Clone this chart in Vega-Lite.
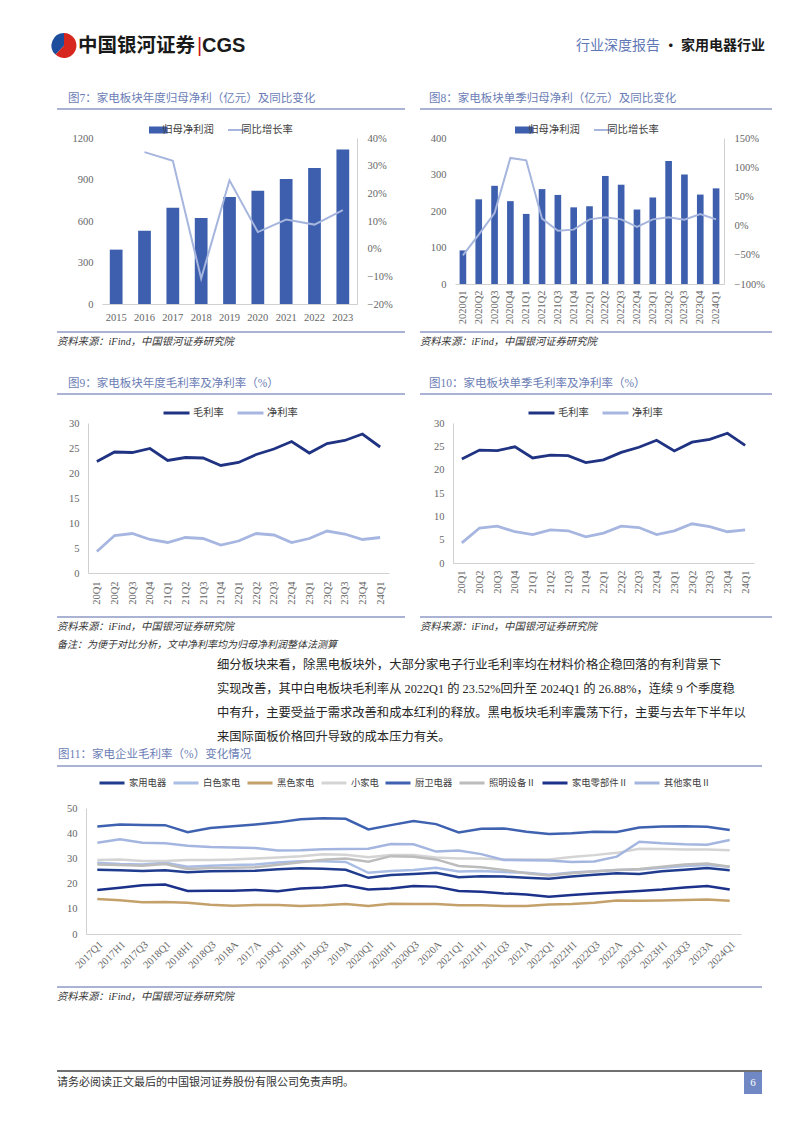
{
  "$schema": "https://vega.github.io/schema/vega-lite/v6.json",
  "background": "white",
  "padding": {"left": 50, "top": 33, "right": 0, "bottom": 0},
  "spacing": 0,
  "resolve": {"scale": {"color": "independent", "theta": "independent"}, "legend": {"color": "independent"}},
  "datasets": {
    "margin": [
      {"q": "20Q1", "毛利率": 22.3, "净利率": 4.3},
      {"q": "20Q2", "毛利率": 24.2, "净利率": 7.5},
      {"q": "20Q3", "毛利率": 24.1, "净利率": 7.9},
      {"q": "20Q4", "毛利率": 24.9, "净利率": 6.7},
      {"q": "21Q1", "毛利率": 22.5, "净利率": 6.1},
      {"q": "21Q2", "毛利率": 23.1, "净利率": 7.1},
      {"q": "21Q3", "毛利率": 23.0, "净利率": 6.9},
      {"q": "21Q4", "毛利率": 21.5, "净利率": 5.6},
      {"q": "22Q1", "毛利率": 22.1, "净利率": 6.4},
      {"q": "22Q2", "毛利率": 23.7, "净利率": 7.9},
      {"q": "22Q3", "毛利率": 24.8, "净利率": 7.6},
      {"q": "22Q4", "毛利率": 26.3, "净利率": 6.1},
      {"q": "23Q1", "毛利率": 24.0, "净利率": 6.9},
      {"q": "23Q2", "毛利率": 25.9, "净利率": 8.4},
      {"q": "23Q3", "毛利率": 26.5, "净利率": 7.8},
      {"q": "23Q4", "毛利率": 27.8, "净利率": 6.7},
      {"q": "24Q1", "毛利率": 25.2, "净利率": 7.1}
    ]
  },
  "vconcat": [
    {"hconcat": [
      {"width": 28, "height": 25, "data": {"values": [{"k": "a", "v": 62}, {"k": "b", "v": 38}]}, "mark": {"type": "arc"}, "encoding": {"theta": {"field": "v", "type": "quantitative"}, "color": {"field": "k", "type": "nominal", "scale": {"range": ["#d7261e", "#1d4e9e"]}, "legend": null}}},
      {"width": 119, "height": 25, "data": {"values": [{"t": "中国银河证券"}]}, "mark": {"type": "text", "align": "left", "baseline": "middle", "fontSize": 19.5, "fontWeight": "bold", "font": "Noto Sans CJK SC", "color": "#1a1a1a"}, "encoding": {"text": {"field": "t"}, "x": {"datum": 0, "type": "quantitative", "scale": {"domain": [0, 1]}, "axis": null}}},
      {"width": 5, "height": 25, "data": {"values": [{"t": "|"}]}, "mark": {"type": "text", "align": "center", "baseline": "middle", "fontSize": 20, "font": "Liberation Sans", "color": "#c8161d"}, "encoding": {"text": {"field": "t"}}},
      {"width": 76, "height": 25, "data": {"values": [{"t": "CGS"}]}, "mark": {"type": "text", "align": "left", "baseline": "middle", "fontSize": 20, "fontWeight": "bold", "font": "Liberation Sans", "color": "#1a1a1a"}, "encoding": {"text": {"field": "t"}, "x": {"datum": 0, "type": "quantitative", "scale": {"domain": [0, 1]}, "axis": null}}},
      {"width": 382, "height": 25, "data": {"values": [{"t": "行业深度报告"}]}, "mark": {"type": "text", "align": "right", "baseline": "middle", "fontSize": 14, "font": "Noto Sans CJK SC", "color": "#5f77b5"}, "encoding": {"text": {"field": "t"}, "x": {"datum": 1, "type": "quantitative", "scale": {"domain": [0, 1]}, "axis": null}}},
      {"width": 105, "height": 25, "data": {"values": [{"t": "· 家用电器行业"}]}, "mark": {"type": "text", "align": "right", "baseline": "middle", "fontSize": 14, "fontWeight": "bold", "font": "Noto Sans CJK SC", "color": "#1a1a1a"}, "encoding": {"text": {"field": "t"}, "x": {"datum": 1, "type": "quantitative", "scale": {"domain": [0, 1]}, "axis": null}}},
      {"width": 1, "height": 56, "data": {"values": [{}]}, "mark": {"type": "point", "opacity": 0, "size": 0, "strokeWidth": 0}, "encoding": {}}
    ], "spacing": 0, "bounds": "flush"},

    {"hconcat": [
      {"width": 7, "height": 35, "data": {"values": [{}]}, "mark": {"type": "point", "opacity": 0, "size": 0, "strokeWidth": 0}, "encoding": {}},
      {"width": 348, "height": 20, "data": {"values": [{"t": "图7：家电板块年度归母净利（亿元）及同比变化"}]}, "layer": [
        {"mark": {"type": "rule", "color": "#8e9ac6", "strokeWidth": 1.3}, "encoding": {"y": {"datum": 0, "type": "quantitative", "scale": {"domain": [0, 1]}, "axis": null}}},
        {"mark": {"type": "text", "align": "left", "baseline": "middle", "dx": 11, "fontSize": 11.5, "color": "#6b7db5"}, "encoding": {"text": {"field": "t"}, "x": {"datum": 0, "type": "quantitative", "scale": {"domain": [0, 1]}, "axis": null}}}
      ]},
      {"width": 15, "height": 20, "data": {"values": [{}]}, "mark": {"type": "point", "opacity": 0, "size": 0, "strokeWidth": 0}, "encoding": {}},
      {"width": 352, "height": 20, "data": {"values": [{"t": "图8：家电板块单季归母净利（亿元）及同比变化"}]}, "layer": [
        {"mark": {"type": "rule", "color": "#8e9ac6", "strokeWidth": 1.3}, "encoding": {"y": {"datum": 0, "type": "quantitative", "scale": {"domain": [0, 1]}, "axis": null}}},
        {"mark": {"type": "text", "align": "left", "baseline": "middle", "dx": 9, "fontSize": 11.5, "color": "#6b7db5"}, "encoding": {"text": {"field": "t"}, "x": {"datum": 0, "type": "quantitative", "scale": {"domain": [0, 1]}, "axis": null}}}
      ]}
    ], "spacing": 0, "bounds": "flush"},

    {"hconcat": [
      {"width": 52, "height": 193, "data": {"values": [{}]}, "mark": {"type": "point", "opacity": 0, "size": 0, "strokeWidth": 0}, "encoding": {}},
      {
        "width": 255, "height": 166,
        "data": {"values": [
          {"year": "2015", "profit": 393, "yoy": null},
          {"year": "2016", "profit": 530, "yoy": 0.349},
          {"year": "2017", "profit": 696, "yoy": 0.318},
          {"year": "2018", "profit": 622, "yoy": -0.108},
          {"year": "2019", "profit": 773, "yoy": 0.247},
          {"year": "2020", "profit": 819, "yoy": 0.060},
          {"year": "2021", "profit": 904, "yoy": 0.105},
          {"year": "2022", "profit": 983, "yoy": 0.087},
          {"year": "2023", "profit": 1116, "yoy": 0.139}
        ]},
        "encoding": {"x": {"field": "year", "type": "ordinal", "sort": null, "title": null, "scale": {"paddingInner": 0.55, "paddingOuter": 0.275}, "axis": {"labelAngle": 0, "labelPadding": 8, "domain": true}}},
        "layer": [
          {"mark": {"type": "bar"}, "encoding": {
            "y": {"field": "profit", "type": "quantitative", "title": null, "scale": {"domain": [0, 1200], "nice": false}, "axis": {"values": [0, 300, 600, 900, 1200], "format": "d", "labelPadding": 9}},
            "color": {"datum": "归母净利润", "type": "nominal", "scale": {"domain": ["归母净利润", "同比增长率"], "range": ["#3d5fad", "#a5b5dd"]},
              "legend": {"orient": "none", "legendX": 47, "legendY": -14, "clipHeight": 12, "direction": "horizontal", "title": null, "symbolType": "stroke", "symbolSize": 729, "labelOffset": 3, "columnPadding": 14,
                "encode": {"symbols": {"update": {"shape": {"value": "stroke"}, "size": {"value": 729}, "strokeWidth": {"signal": "datum.value === '归母净利润' ? 7 : 2"}, "stroke": {"signal": "datum.value === '归母净利润' ? '#3d5fad' : '#a5b5dd'"}, "fill": {"value": "transparent"}}}}}}
          }},
          {"mark": {"type": "line", "strokeWidth": 2}, "encoding": {
            "y": {"field": "yoy", "type": "quantitative", "title": null, "scale": {"domain": [-0.2, 0.4], "nice": false}, "axis": {"orient": "right", "values": [-0.2, -0.1, 0, 0.1, 0.2, 0.3, 0.4], "format": ".0%", "domain": true, "labelPadding": 10}},
            "color": {"datum": "同比增长率", "type": "nominal",
              "legend": {"orient": "none", "legendX": 47, "legendY": -14, "clipHeight": 12, "direction": "horizontal", "title": null, "symbolType": "stroke", "symbolSize": 729, "labelOffset": 3, "columnPadding": 14,
                "encode": {"symbols": {"update": {"shape": {"value": "stroke"}, "size": {"value": 729}, "strokeWidth": {"signal": "datum.value === '归母净利润' ? 7 : 2"}, "stroke": {"signal": "datum.value === '归母净利润' ? '#3d5fad' : '#a5b5dd'"}, "fill": {"value": "transparent"}}}}}}
          }}
        ],
        "resolve": {"scale": {"y": "independent"}}
      },
      {"width": 98, "height": 10, "data": {"values": [{}]}, "mark": {"type": "point", "opacity": 0, "size": 0, "strokeWidth": 0}, "encoding": {}},
      {
        "width": 269, "height": 146,
        "data": {"values": [
          {"q": "2020Q1", "profit": 92, "yoy": -0.509},
          {"q": "2020Q2", "profit": 232, "yoy": -0.155},
          {"q": "2020Q3", "profit": 269, "yoy": 0.216},
          {"q": "2020Q4", "profit": 227, "yoy": 1.158},
          {"q": "2021Q1", "profit": 192, "yoy": 1.118},
          {"q": "2021Q2", "profit": 260, "yoy": 0.119},
          {"q": "2021Q3", "profit": 244, "yoy": -0.087},
          {"q": "2021Q4", "profit": 210, "yoy": -0.069},
          {"q": "2022Q1", "profit": 213, "yoy": 0.107},
          {"q": "2022Q2", "profit": 296, "yoy": 0.142},
          {"q": "2022Q3", "profit": 272, "yoy": 0.107},
          {"q": "2022Q4", "profit": 204, "yoy": -0.024},
          {"q": "2023Q1", "profit": 237, "yoy": 0.107},
          {"q": "2023Q2", "profit": 337, "yoy": 0.142},
          {"q": "2023Q3", "profit": 300, "yoy": 0.102},
          {"q": "2023Q4", "profit": 245, "yoy": 0.199},
          {"q": "2024Q1", "profit": 262, "yoy": 0.107}
        ]},
        "encoding": {"x": {"field": "q", "type": "ordinal", "sort": null, "title": null, "scale": {"paddingInner": 0.58, "paddingOuter": 0.29}, "axis": {"labelAngle": -90, "labelPadding": 6, "domain": true}}},
        "layer": [
          {"mark": {"type": "bar"}, "encoding": {
            "y": {"field": "profit", "type": "quantitative", "title": null, "scale": {"domain": [0, 400], "nice": false}, "axis": {"values": [0, 100, 200, 300, 400], "format": "d", "labelPadding": 9}},
            "color": {"datum": "归母净利润", "type": "nominal", "scale": {"domain": ["归母净利润", "同比增长率"], "range": ["#3d5fad", "#a5b5dd"]},
              "legend": {"orient": "none", "legendX": 60, "legendY": -14, "clipHeight": 12, "direction": "horizontal", "title": null, "symbolType": "stroke", "symbolSize": 729, "labelOffset": 3, "columnPadding": 14,
                "encode": {"symbols": {"update": {"shape": {"value": "stroke"}, "size": {"value": 729}, "strokeWidth": {"signal": "datum.value === '归母净利润' ? 7 : 2"}, "stroke": {"signal": "datum.value === '归母净利润' ? '#3d5fad' : '#a5b5dd'"}, "fill": {"value": "transparent"}}}}}}
          }},
          {"mark": {"type": "line", "strokeWidth": 2}, "encoding": {
            "y": {"field": "yoy", "type": "quantitative", "title": null, "scale": {"domain": [-1, 1.5], "nice": false}, "axis": {"orient": "right", "values": [-1, -0.5, 0, 0.5, 1, 1.5], "format": ".0%", "domain": true, "labelPadding": 10}},
            "color": {"datum": "同比增长率", "type": "nominal",
              "legend": {"orient": "none", "legendX": 60, "legendY": -14, "clipHeight": 12, "direction": "horizontal", "title": null, "symbolType": "stroke", "symbolSize": 729, "labelOffset": 3, "columnPadding": 14,
                "encode": {"symbols": {"update": {"shape": {"value": "stroke"}, "size": {"value": 729}, "strokeWidth": {"signal": "datum.value === '归母净利润' ? 7 : 2"}, "stroke": {"signal": "datum.value === '归母净利润' ? '#3d5fad' : '#a5b5dd'"}, "fill": {"value": "transparent"}}}}}}
          }}
        ],
        "resolve": {"scale": {"y": "independent"}}
      }
    ], "spacing": 0, "bounds": "flush", "resolve": {"scale": {"color": "independent"}, "legend": {"color": "independent"}}},

    {"hconcat": [
      {"width": 7, "height": 2, "data": {"values": [{}]}, "mark": {"type": "point", "opacity": 0, "size": 0, "strokeWidth": 0}, "encoding": {}},
      {"width": 348, "height": 1, "data": {"values": [{}]}, "mark": {"type": "rule", "color": "#8e9ac6", "strokeWidth": 1.3}, "encoding": {"y": {"datum": 0, "type": "quantitative", "scale": {"domain": [0, 1]}, "axis": null}}},
      {"width": 15, "height": 1, "data": {"values": [{}]}, "mark": {"type": "point", "opacity": 0, "size": 0, "strokeWidth": 0}, "encoding": {}},
      {"width": 352, "height": 1, "data": {"values": [{}]}, "mark": {"type": "rule", "color": "#8e9ac6", "strokeWidth": 1.3}, "encoding": {"y": {"datum": 0, "type": "quantitative", "scale": {"domain": [0, 1]}, "axis": null}}}
    ], "spacing": 0, "bounds": "flush"},

    {"hconcat": [
      {"width": 7, "height": 40, "data": {"values": [{}]}, "mark": {"type": "point", "opacity": 0, "size": 0, "strokeWidth": 0}, "encoding": {}},
      {"width": 348, "height": 17, "data": {"values": [{"t": "资料来源：iFind，中国银河证券研究院"}]}, "mark": {"type": "text", "align": "left", "baseline": "middle", "fontSize": 10.3, "fontStyle": "italic", "color": "#333333"}, "encoding": {"text": {"field": "t"}, "x": {"datum": 0, "type": "quantitative", "scale": {"domain": [0, 1]}, "axis": null}}},
      {"width": 15, "height": 17, "data": {"values": [{}]}, "mark": {"type": "point", "opacity": 0, "size": 0, "strokeWidth": 0}, "encoding": {}},
      {"width": 352, "height": 17, "data": {"values": [{"t": "资料来源：iFind，中国银河证券研究院"}]}, "mark": {"type": "text", "align": "left", "baseline": "middle", "fontSize": 10.3, "fontStyle": "italic", "color": "#333333"}, "encoding": {"text": {"field": "t"}, "x": {"datum": 0, "type": "quantitative", "scale": {"domain": [0, 1]}, "axis": null}}}
    ], "spacing": 0, "bounds": "flush"},

    {"hconcat": [
      {"width": 7, "height": 34, "data": {"values": [{}]}, "mark": {"type": "point", "opacity": 0, "size": 0, "strokeWidth": 0}, "encoding": {}},
      {"width": 348, "height": 21, "data": {"values": [{"t": "图9：家电板块年度毛利率及净利率（%）"}]}, "layer": [
        {"mark": {"type": "rule", "color": "#8e9ac6", "strokeWidth": 1.3}, "encoding": {"y": {"datum": 0, "type": "quantitative", "scale": {"domain": [0, 1]}, "axis": null}}},
        {"mark": {"type": "text", "align": "left", "baseline": "middle", "dx": 11, "fontSize": 11.5, "color": "#6b7db5"}, "encoding": {"text": {"field": "t"}, "x": {"datum": 0, "type": "quantitative", "scale": {"domain": [0, 1]}, "axis": null}}}
      ]},
      {"width": 15, "height": 21, "data": {"values": [{}]}, "mark": {"type": "point", "opacity": 0, "size": 0, "strokeWidth": 0}, "encoding": {}},
      {"width": 352, "height": 21, "data": {"values": [{"t": "图10：家电板块单季毛利率及净利率（%）"}]}, "layer": [
        {"mark": {"type": "rule", "color": "#8e9ac6", "strokeWidth": 1.3}, "encoding": {"y": {"datum": 0, "type": "quantitative", "scale": {"domain": [0, 1]}, "axis": null}}},
        {"mark": {"type": "text", "align": "left", "baseline": "middle", "dx": 9, "fontSize": 11.5, "color": "#6b7db5"}, "encoding": {"text": {"field": "t"}, "x": {"datum": 0, "type": "quantitative", "scale": {"domain": [0, 1]}, "axis": null}}}
      ]}
    ], "spacing": 0, "bounds": "flush"},

    {"hconcat": [
      {"width": 38, "height": 193, "data": {"values": [{}]}, "mark": {"type": "point", "opacity": 0, "size": 0, "strokeWidth": 0}, "encoding": {}},
      {
        "width": 301, "height": 150,
        "data": {"name": "margin"},
        "transform": [{"fold": ["毛利率", "净利率"], "as": ["series", "value"]}],
        "mark": {"type": "line", "strokeWidth": 2.8},
        "encoding": {
          "x": {"field": "q", "type": "ordinal", "sort": null, "title": null, "scale": {"type": "point", "padding": 0.5}, "axis": {"labelAngle": -90, "labelPadding": 8, "domain": true}},
          "y": {"field": "value", "type": "quantitative", "title": null, "scale": {"domain": [0, 30], "nice": false}, "axis": {"values": [0, 5, 10, 15, 20, 25, 30], "domain": true, "labelPadding": 9}},
          "color": {"field": "series", "type": "nominal", "sort": ["毛利率", "净利率"], "scale": {"domain": ["毛利率", "净利率"], "range": ["#1f3382", "#a6b6e0"]},
            "legend": {"orient": "none", "legendX": 74, "legendY": -16, "clipHeight": 12, "direction": "horizontal", "title": null, "symbolType": "stroke", "symbolSize": 676, "symbolStrokeWidth": 3, "labelOffset": 2, "columnPadding": 12}}
        }
      },
      {"width": 64, "height": 10, "data": {"values": [{}]}, "mark": {"type": "point", "opacity": 0, "size": 0, "strokeWidth": 0}, "encoding": {}},
      {
        "width": 301, "height": 140,
        "data": {"name": "margin"},
        "transform": [{"fold": ["毛利率", "净利率"], "as": ["series", "value"]}],
        "mark": {"type": "line", "strokeWidth": 2.8},
        "encoding": {
          "x": {"field": "q", "type": "ordinal", "sort": null, "title": null, "scale": {"type": "point", "padding": 0.5}, "axis": {"labelAngle": -90, "labelPadding": 7, "domain": true}},
          "y": {"field": "value", "type": "quantitative", "title": null, "scale": {"domain": [0, 30], "nice": false}, "axis": {"values": [0, 5, 10, 15, 20, 25, 30], "domain": true, "labelPadding": 9}},
          "color": {"field": "series", "type": "nominal", "sort": ["毛利率", "净利率"], "scale": {"domain": ["毛利率", "净利率"], "range": ["#1f3382", "#a6b6e0"]},
            "legend": {"orient": "none", "legendX": 74, "legendY": -16, "clipHeight": 12, "direction": "horizontal", "title": null, "symbolType": "stroke", "symbolSize": 676, "symbolStrokeWidth": 3, "labelOffset": 2, "columnPadding": 12}}
        }
      }
    ], "spacing": 0, "bounds": "flush", "resolve": {"scale": {"color": "independent"}, "legend": {"color": "independent"}}},

    {"hconcat": [
      {"width": 7, "height": 2, "data": {"values": [{}]}, "mark": {"type": "point", "opacity": 0, "size": 0, "strokeWidth": 0}, "encoding": {}},
      {"width": 348, "height": 1, "data": {"values": [{}]}, "mark": {"type": "rule", "color": "#8e9ac6", "strokeWidth": 1.3}, "encoding": {"y": {"datum": 0, "type": "quantitative", "scale": {"domain": [0, 1]}, "axis": null}}},
      {"width": 15, "height": 1, "data": {"values": [{}]}, "mark": {"type": "point", "opacity": 0, "size": 0, "strokeWidth": 0}, "encoding": {}},
      {"width": 352, "height": 1, "data": {"values": [{}]}, "mark": {"type": "rule", "color": "#8e9ac6", "strokeWidth": 1.3}, "encoding": {"y": {"datum": 0, "type": "quantitative", "scale": {"domain": [0, 1]}, "axis": null}}}
    ], "spacing": 0, "bounds": "flush"},

    {"hconcat": [
      {"width": 7, "height": 20, "data": {"values": [{}]}, "mark": {"type": "point", "opacity": 0, "size": 0, "strokeWidth": 0}, "encoding": {}},
      {"width": 348, "height": 18, "data": {"values": [{"t": "资料来源：iFind，中国银河证券研究院"}]}, "mark": {"type": "text", "align": "left", "baseline": "middle", "fontSize": 10.3, "fontStyle": "italic", "color": "#333333"}, "encoding": {"text": {"field": "t"}, "x": {"datum": 0, "type": "quantitative", "scale": {"domain": [0, 1]}, "axis": null}}},
      {"width": 15, "height": 18, "data": {"values": [{}]}, "mark": {"type": "point", "opacity": 0, "size": 0, "strokeWidth": 0}, "encoding": {}},
      {"width": 352, "height": 18, "data": {"values": [{"t": "资料来源：iFind，中国银河证券研究院"}]}, "mark": {"type": "text", "align": "left", "baseline": "middle", "fontSize": 10.3, "fontStyle": "italic", "color": "#333333"}, "encoding": {"text": {"field": "t"}, "x": {"datum": 0, "type": "quantitative", "scale": {"domain": [0, 1]}, "axis": null}}}
    ], "spacing": 0, "bounds": "flush"},

    {"hconcat": [
      {"width": 7, "height": 15, "data": {"values": [{}]}, "mark": {"type": "point", "opacity": 0, "size": 0, "strokeWidth": 0}, "encoding": {}},
      {"width": 500, "height": 14, "data": {"values": [{"t": "备注：为便于对比分析，文中净利率均为归母净利润整体法测算"}]}, "mark": {"type": "text", "align": "left", "baseline": "middle", "fontSize": 10, "fontStyle": "italic", "color": "#333333"}, "encoding": {"text": {"field": "t"}, "x": {"datum": 0, "type": "quantitative", "scale": {"domain": [0, 1]}, "axis": null}}}
    ], "spacing": 0, "bounds": "flush"},

    {"hconcat": [
      {"width": 167, "height": 91, "data": {"values": [{}]}, "mark": {"type": "point", "opacity": 0, "size": 0, "strokeWidth": 0}, "encoding": {}},
      {"width": 528, "height": 91, "data": {"values": [
        {"line": 1, "t": "　　细分板块来看，除黑电板块外，大部分家电子行业毛利率均在材料价格企稳回落的有利背景下"},
        {"line": 2, "t": "实现改善，其中白电板块毛利率从 2022Q1 的 23.52%回升至 2024Q1 的 26.88%，连续 9 个季度稳"},
        {"line": 3, "t": "中有升，主要受益于需求改善和成本红利的释放。黑电板块毛利率震荡下行，主要与去年下半年以"},
        {"line": 4, "t": "来国际面板价格回升导致的成本压力有关。"}
      ]}, "mark": {"type": "text", "align": "left", "baseline": "middle", "fontSize": 12.3, "color": "#262626"}, "encoding": {"text": {"field": "t"}, "x": {"datum": 0, "type": "quantitative", "scale": {"domain": [0, 1]}, "axis": null}, "y": {"field": "line", "type": "ordinal", "scale": {"type": "point", "padding": 0.396, "align": 0.632}, "axis": null}}}
    ], "spacing": 0, "bounds": "flush"},

    {"hconcat": [
      {"width": 7, "height": 33, "data": {"values": [{}]}, "mark": {"type": "point", "opacity": 0, "size": 0, "strokeWidth": 0}, "encoding": {}},
      {"width": 705, "height": 22, "data": {"values": [{"t": "图11：家电企业毛利率（%）变化情况"}]}, "layer": [
        {"mark": {"type": "rule", "color": "#8e9ac6", "strokeWidth": 1.3}, "encoding": {"y": {"datum": 0, "type": "quantitative", "scale": {"domain": [0, 1]}, "axis": null}}},
        {"mark": {"type": "text", "align": "left", "baseline": "middle", "dx": 1, "fontSize": 11.5, "color": "#6b7db5"}, "encoding": {"text": {"field": "t"}, "x": {"datum": 0, "type": "quantitative", "scale": {"domain": [0, 1]}, "axis": null}}}
      ]}
    ], "spacing": 0, "bounds": "flush"},

    {"hconcat": [
      {"width": 36, "height": 178, "data": {"values": [{}]}, "mark": {"type": "point", "opacity": 0, "size": 0, "strokeWidth": 0}, "encoding": {}},
      {
        "width": 655, "height": 126,
        "data": {"values": [
          {"p": "2017Q1", "家用电器": 25.5, "白色家电": 28.3, "黑色家电": 13.9, "小家电": 29.4, "厨卫电器": 42.7, "照明设备Ⅱ": 27.6, "家电零部件Ⅱ": 17.5, "其他家电Ⅱ": 36.2},
          {"p": "2017H1", "家用电器": 25.3, "白色家电": 27.8, "黑色家电": 13.4, "小家电": 29.6, "厨卫电器": 43.5, "照明设备Ⅱ": 27.4, "家电零部件Ⅱ": 18.4, "其他家电Ⅱ": 37.6},
          {"p": "2017Q3", "家用电器": 25.0, "白色家电": 27.6, "黑色家电": 12.6, "小家电": 29.0, "厨卫电器": 43.3, "照明设备Ⅱ": 27.1, "家电零部件Ⅱ": 19.3, "其他家电Ⅱ": 36.2},
          {"p": "2018Q1", "家用电器": 25.3, "白色家电": 28.3, "黑色家电": 12.7, "小家电": 29.0, "厨卫电器": 43.2, "照明设备Ⅱ": 27.8, "家电零部件Ⅱ": 19.6, "其他家电Ⅱ": 36.0},
          {"p": "2018H1", "家用电器": 24.5, "白色家电": 26.7, "黑色家电": 12.4, "小家电": 29.4, "厨卫电器": 40.4, "照明设备Ⅱ": 25.8, "家电零部件Ⅱ": 17.1, "其他家电Ⅱ": 35.0},
          {"p": "2018Q3", "家用电器": 24.9, "白色家电": 27.1, "黑色家电": 11.6, "小家电": 29.4, "厨卫电器": 42.1, "照明设备Ⅱ": 26.2, "家电零部件Ⅱ": 17.2, "其他家电Ⅱ": 34.5},
          {"p": "2018A", "家用电器": 25.0, "白色家电": 27.4, "黑色家电": 11.2, "小家电": 29.6, "厨卫电器": 42.8, "照明设备Ⅱ": 26.3, "家电零部件Ⅱ": 17.2, "其他家电Ⅱ": 34.3},
          {"p": "2017A", "家用电器": 25.1, "白色家电": 27.6, "黑色家电": 11.5, "小家电": 30.0, "厨卫电器": 43.5, "照明设备Ⅱ": 26.5, "家电零部件Ⅱ": 17.5, "其他家电Ⅱ": 34.1},
          {"p": "2019Q1", "家用电器": 25.7, "白色家电": 28.4, "黑色家电": 11.5, "小家电": 30.4, "厨卫电器": 44.3, "照明设备Ⅱ": 27.5, "家电零部件Ⅱ": 17.0, "其他家电Ⅱ": 33.1},
          {"p": "2019H1", "家用电器": 26.1, "白色家电": 28.9, "黑色家电": 11.1, "小家电": 30.9, "厨卫电器": 45.5, "照明设备Ⅱ": 28.5, "家电零部件Ⅱ": 18.1, "其他家电Ⅱ": 33.2},
          {"p": "2019Q3", "家用电器": 25.9, "白色家电": 28.9, "黑色家电": 11.4, "小家电": 31.6, "厨卫电器": 45.9, "照明设备Ⅱ": 29.5, "家电零部件Ⅱ": 18.5, "其他家电Ⅱ": 33.6},
          {"p": "2019A", "家用电器": 25.5, "白色家电": 28.6, "黑色家电": 11.9, "小家电": 31.4, "厨卫电器": 45.7, "照明设备Ⅱ": 30.0, "家电零部件Ⅱ": 19.3, "其他家电Ⅱ": 33.7},
          {"p": "2020Q1", "家用电器": 22.3, "白色家电": 24.3, "黑色家电": 11.1, "小家电": 30.5, "厨卫电器": 41.5, "照明设备Ⅱ": 28.7, "家电零部件Ⅱ": 17.7, "其他家电Ⅱ": 33.8},
          {"p": "2020H1", "家用电器": 23.4, "白色家电": 25.0, "黑色家电": 12.0, "小家电": 31.3, "厨卫电器": 43.2, "照明设备Ⅱ": 30.9, "家电零部件Ⅱ": 18.1, "其他家电Ⅱ": 35.7},
          {"p": "2020Q3", "家用电器": 23.8, "白色家电": 25.4, "黑色家电": 11.9, "小家电": 31.3, "厨卫电器": 44.8, "照明设备Ⅱ": 30.7, "家电零部件Ⅱ": 19.0, "其他家电Ⅱ": 35.6},
          {"p": "2020A", "家用电器": 24.3, "白色家电": 26.3, "黑色家电": 11.9, "小家电": 30.4, "厨卫电器": 43.6, "照明设备Ⅱ": 29.6, "家电零部件Ⅱ": 18.8, "其他家电Ⅱ": 32.7},
          {"p": "2021Q1", "家用电器": 22.5, "白色家电": 24.8, "黑色家电": 11.4, "小家电": 30.0, "厨卫电器": 40.3, "照明设备Ⅱ": 27.0, "家电零部件Ⅱ": 17.1, "其他家电Ⅱ": 33.1},
          {"p": "2021H1", "家用电器": 22.9, "白色家电": 25.0, "黑色家电": 11.4, "小家电": 30.0, "厨卫电器": 41.8, "照明设备Ⅱ": 26.5, "家电零部件Ⅱ": 16.8, "其他家电Ⅱ": 31.7},
          {"p": "2021Q3", "家用电器": 22.8, "白色家电": 24.6, "黑色家电": 11.1, "小家电": 29.6, "厨卫电器": 41.9, "照明设备Ⅱ": 25.4, "家电零部件Ⅱ": 16.1, "其他家电Ⅱ": 29.4},
          {"p": "2021A", "家用电器": 22.3, "白色家电": 24.3, "黑色家电": 11.1, "小家电": 29.6, "厨卫电器": 40.6, "照明设备Ⅱ": 24.1, "家电零部件Ⅱ": 15.7, "其他家电Ⅱ": 29.3},
          {"p": "2022Q1", "家用电器": 21.9, "白色家电": 23.5, "黑色家电": 11.7, "小家电": 29.6, "厨卫电器": 39.7, "照明设备Ⅱ": 23.2, "家电零部件Ⅱ": 14.8, "其他家电Ⅱ": 29.2},
          {"p": "2022H1", "家用电器": 22.8, "白色家电": 24.4, "黑色家电": 11.9, "小家电": 30.6, "厨卫电器": 40.0, "照明设备Ⅱ": 24.1, "家电零部件Ⅱ": 15.5, "其他家电Ⅱ": 28.6},
          {"p": "2022Q3", "家用电器": 23.5, "白色家电": 24.9, "黑色家电": 12.4, "小家电": 31.3, "厨卫电器": 40.6, "照明设备Ⅱ": 24.8, "家电零部件Ⅱ": 16.1, "其他家电Ⅱ": 28.8},
          {"p": "2022A", "家用电器": 24.1, "白色家电": 25.4, "黑色家电": 13.3, "小家电": 32.2, "厨卫电器": 40.5, "照明设备Ⅱ": 25.4, "家电零部件Ⅱ": 16.6, "其他家电Ⅱ": 30.7},
          {"p": "2023Q1", "家用电器": 23.8, "白色家电": 25.6, "黑色家电": 13.2, "小家电": 33.8, "厨卫电器": 42.3, "照明设备Ⅱ": 25.8, "家电零部件Ⅱ": 17.1, "其他家电Ⅱ": 36.6},
          {"p": "2023H1", "家用电器": 24.9, "白色家电": 26.3, "黑色家电": 13.3, "小家电": 33.7, "厨卫电器": 42.7, "照明设备Ⅱ": 26.7, "家电零部件Ⅱ": 17.7, "其他家电Ⅱ": 36.0},
          {"p": "2023Q3", "家用电器": 25.5, "白色家电": 27.0, "黑色家电": 13.5, "小家电": 33.5, "厨卫电器": 42.8, "照明设备Ⅱ": 27.6, "家电零部件Ⅱ": 18.5, "其他家电Ⅱ": 35.6},
          {"p": "2023A", "家用电器": 26.2, "白色家电": 27.4, "黑色家电": 13.7, "小家电": 33.5, "厨卫电器": 42.6, "照明设备Ⅱ": 28.0, "家电零部件Ⅱ": 19.0, "其他家电Ⅱ": 35.4},
          {"p": "2024Q1", "家用电器": 25.3, "白色家电": 26.7, "黑色家电": 13.2, "小家电": 33.2, "厨卫电器": 41.3, "照明设备Ⅱ": 26.7, "家电零部件Ⅱ": 17.7, "其他家电Ⅱ": 37.3}
        ]},
        "transform": [{"fold": ["家用电器", "白色家电", "黑色家电", "小家电", "厨卫电器", "照明设备Ⅱ", "家电零部件Ⅱ", "其他家电Ⅱ"], "as": ["series", "value"]}],
        "mark": {"type": "line", "strokeWidth": 2.5},
        "encoding": {
          "x": {"field": "p", "type": "ordinal", "sort": null, "title": null, "scale": {"type": "point", "padding": 0.5}, "axis": {"labelAngle": -45, "labelPadding": 5, "domain": true}},
          "y": {"field": "value", "type": "quantitative", "title": null, "scale": {"domain": [0, 50], "nice": false}, "axis": {"values": [0, 10, 20, 30, 40, 50], "domain": true, "labelPadding": 9}},
          "color": {"field": "series", "type": "nominal", "sort": ["家用电器", "白色家电", "黑色家电", "小家电", "厨卫电器", "照明设备Ⅱ", "家电零部件Ⅱ", "其他家电Ⅱ"],
            "scale": {"domain": ["家用电器", "白色家电", "黑色家电", "小家电", "厨卫电器", "照明设备Ⅱ", "家电零部件Ⅱ", "其他家电Ⅱ"], "range": ["#203c8e", "#aabde5", "#c4a06b", "#d4d4d4", "#3f62b0", "#bcbcbc", "#1b318a", "#a4b6e0"]},
            "legend": {"orient": "none", "legendX": 48, "legendY": -31, "clipHeight": 12, "direction": "horizontal", "title": null, "symbolType": "stroke", "symbolSize": 625, "symbolStrokeWidth": 3, "labelOffset": 3, "columnPadding": 5, "labelFontSize": 9.3}}
        }
      }
    ], "spacing": 0, "bounds": "flush"},

    {"hconcat": [
      {"width": 7, "height": 2, "data": {"values": [{}]}, "mark": {"type": "point", "opacity": 0, "size": 0, "strokeWidth": 0}, "encoding": {}},
      {"width": 705, "height": 1, "data": {"values": [{}]}, "mark": {"type": "rule", "color": "#8e9ac6", "strokeWidth": 1.3}, "encoding": {"y": {"datum": 0, "type": "quantitative", "scale": {"domain": [0, 1]}, "axis": null}}}
    ], "spacing": 0, "bounds": "flush"},

    {"hconcat": [
      {"width": 7, "height": 82, "data": {"values": [{}]}, "mark": {"type": "point", "opacity": 0, "size": 0, "strokeWidth": 0}, "encoding": {}},
      {"width": 705, "height": 18, "data": {"values": [{"t": "资料来源：iFind，中国银河证券研究院"}]}, "mark": {"type": "text", "align": "left", "baseline": "middle", "fontSize": 10.3, "fontStyle": "italic", "color": "#333333"}, "encoding": {"text": {"field": "t"}, "x": {"datum": 0, "type": "quantitative", "scale": {"domain": [0, 1]}, "axis": null}}}
    ], "spacing": 0, "bounds": "flush"},

    {"hconcat": [
      {"width": 7, "height": 2, "data": {"values": [{}]}, "mark": {"type": "point", "opacity": 0, "size": 0, "strokeWidth": 0}, "encoding": {}},
      {"width": 705, "height": 1, "data": {"values": [{}]}, "mark": {"type": "rule", "color": "#404040", "strokeWidth": 1.3}, "encoding": {"y": {"datum": 0, "type": "quantitative", "scale": {"domain": [0, 1]}, "axis": null}}}
    ], "spacing": 0, "bounds": "flush"},

    {"hconcat": [
      {"width": 7, "height": 22, "data": {"values": [{}]}, "mark": {"type": "point", "opacity": 0, "size": 0, "strokeWidth": 0}, "encoding": {}},
      {"width": 687, "height": 22, "data": {"values": [{"t": "请务必阅读正文最后的中国银河证券股份有限公司免责声明。"}]}, "mark": {"type": "text", "align": "left", "baseline": "middle", "fontSize": 11, "color": "#333333"}, "encoding": {"text": {"field": "t"}, "x": {"datum": 0, "type": "quantitative", "scale": {"domain": [0, 1]}, "axis": null}}},
      {"width": 18, "height": 22, "view": {"fill": "#7089c4", "stroke": null}, "data": {"values": [{"n": "6"}]}, "mark": {"type": "text", "color": "white", "fontSize": 11, "font": "Liberation Serif"}, "encoding": {"text": {"field": "n"}}}
    ], "spacing": 0, "bounds": "flush"}
  ],
  "config": {
    "view": {"stroke": null},
    "font": "Liberation Serif, Noto Sans CJK SC",
    "text": {"font": "Liberation Serif, Noto Sans CJK SC"},
    "axis": {"labelFont": "Liberation Serif, Noto Sans CJK SC", "labelFontSize": 10.5, "labelColor": "#666666", "ticks": false, "grid": false, "domain": false, "domainColor": "#d0d0d0"},
    "legend": {"labelFont": "Liberation Serif, Noto Sans CJK SC", "labelFontSize": 10.3, "labelColor": "#404040", "padding": 0}
  }
}
